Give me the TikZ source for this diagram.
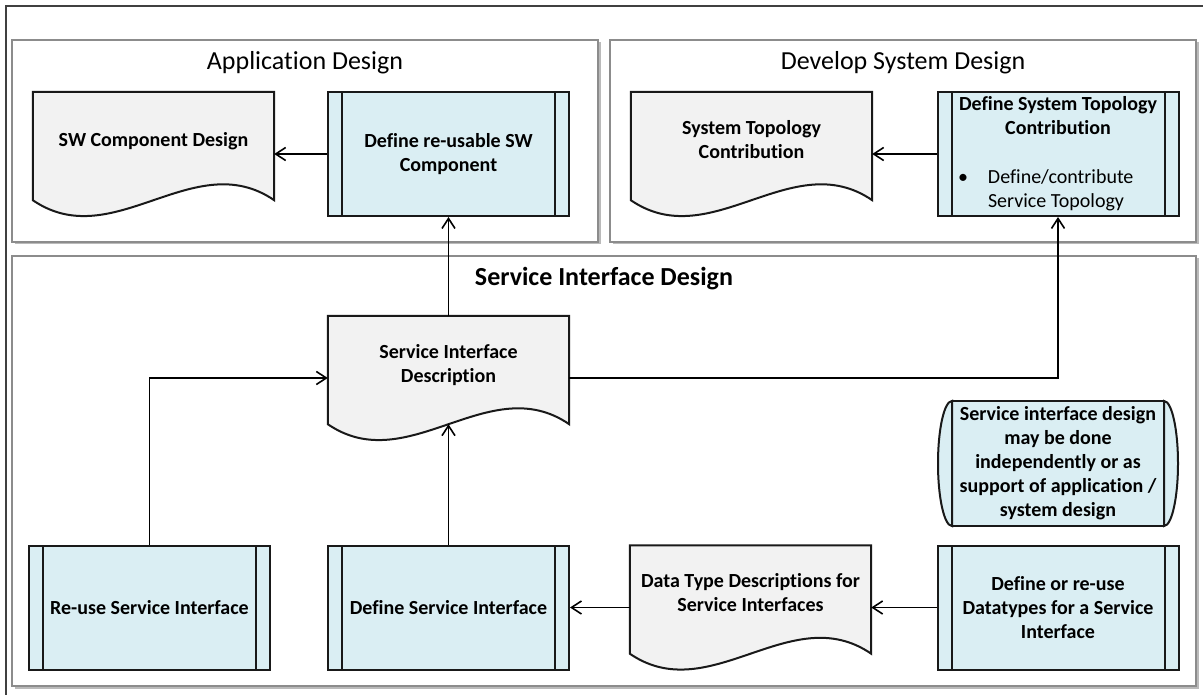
\documentclass[tikz,border=0pt]{standalone}
\usepackage{fontspec}
\setmainfont{Carlito}[Ligatures=NoCommon]
\usetikzlibrary{positioning, arrows.meta, shadows, backgrounds}

\definecolor{procblue}{HTML}{DAEEF3}
\definecolor{docgray}{HTML}{F2F2F2}
\definecolor{framegray}{HTML}{8C8C8C}
\definecolor{outergray}{HTML}{404040}

\newcommand\boxfont{\fontsize{20}{24}\selectfont}
\newcommand\framefont{\fontsize{26}{31}\selectfont}

\tikzset{
  every node/.style={font=\boxfont},
  frame/.style={draw=framegray, line width=1.8pt, fill=white,
    drop shadow={shadow xshift=2.5pt, shadow yshift=-2.5pt, fill=black!45, opacity=.6}},
  outerline/.style={draw=outergray, line width=1.8pt},
  framelabel/.style={font=\framefont},
  procbox/.style={draw=black!90, line width=2pt, fill=procblue, minimum width=241pt, minimum height=124pt,
    align=center, font=\boxfont\bfseries,
    path picture={\draw[line width=2pt]
      ([xshift=14pt]path picture bounding box.north west) -- ([xshift=14pt]path picture bounding box.south west)
      ([xshift=-14pt]path picture bounding box.north east) -- ([xshift=-14pt]path picture bounding box.south east);}},
  docnode/.style={minimum width=241pt, minimum height=124pt, align=center, font=\boxfont\bfseries,
    execute at end node={\rule[-30pt]{0pt}{0pt}}},
  docline/.style={draw=black!90, line width=2pt, fill=docgray},
  notebox/.style={draw=black!90, line width=2pt, fill=procblue, minimum width=212pt, minimum height=125pt,
    outer sep=0pt, align=center, font=\boxfont\bfseries},
  notecap/.style={draw=black!90, line width=2pt, fill=procblue},
  flow/.style={line width=1.6pt, -{Straight Barb[length=10pt,width=13pt]}}
}

\begin{document}
\begin{tikzpicture}[x=1pt, y=-1pt]
\useasboundingbox (0,0) rectangle (1203,695);

% frames
\begin{scope}[on background layer]
  \draw[outerline] (6,6) rectangle (1215,715);
  \node[frame, minimum width=586pt, minimum height=202pt] (appframe) at (305,141) {};
  \node[frame, minimum width=586pt, minimum height=202pt] (sysframe) at (903,141) {};
  \node[frame, minimum width=1184pt, minimum height=430pt] (sidframe) at (604,471) {};
\end{scope}

\node[framelabel] (apptitle) at (305,63) {Application Design};
\node[framelabel] (systitle) at (903,63) {Develop System Design};
\node[framelabel, font=\framefont\bfseries] (sidtitle) at (604,279) {Service Interface Design};

% top row
\node[docnode] (swcd) at (153.5,154) {SW Component Design};
\node[procbox] (defswc) at (448.5,154) {Define re-usable SW\\Component};
\node[docnode] (stc) at (751.5,154) {System Topology\\Contribution};
\node[procbox, font=\boxfont] (defst) at (1058,154) {\textbf{Define System Topology}\\\textbf{Contribution}\\[25pt]
  \makebox[200pt][l]{\makebox[30pt][l]{\textbullet}Define/contribute}\\
  \makebox[200pt][l]{\hspace{30pt}Service Topology}};

% middle
\node[docnode] (sid) at (448.5,378) {Service Interface\\Description};
\node[notebox] (note) at (1058,463.5) {Service interface design\\may be done\\independently or as\\support of application /\\system design};
\draw[notecap] (note.north east) arc[start angle=90, end angle=-90, x radius=14pt, y radius=62.5pt] -- cycle;
\draw[notecap] (note.south west) arc[start angle=270, end angle=90, x radius=14pt, y radius=62.5pt] -- cycle;

% bottom row
\node[procbox] (reuse) at (149.5,607.5) {Re-use Service Interface};
\node[procbox] (defsi) at (448.5,607.5) {Define Service Interface};
\node[docnode] (dtd) at (750.5,607.5) {Data Type Descriptions for\\Service Interfaces};
\node[procbox] (defdt) at (1058,607.5) {Define or re-use\\Datatypes for a Service\\Interface};

% document outlines
\begin{scope}[on background layer]
  \foreach \d in {swcd, stc, sid, dtd}
    \draw[docline] (\d.north west) -- (\d.north east) -- ([yshift=16pt]\d.south east)
      .. controls +(-80.3pt,55pt) and +(80.3pt,-55pt) .. ([yshift=16pt]\d.south west) -- cycle;
\end{scope}

% flows
\draw[flow] (defswc) -- (swcd);
\draw[flow] (defst) -- (stc);
\draw[flow] (sid) -- (defswc);
\draw[flow] (sid.east) -| (defst.south);
\draw[flow] (reuse.north) |- (sid.west);
\draw[flow] (defsi.north) -- ([yshift=16pt]sid.south);
\draw[flow] (dtd) -- (defsi);
\draw[flow] (defdt) -- (dtd);
\end{tikzpicture}
\end{document}
